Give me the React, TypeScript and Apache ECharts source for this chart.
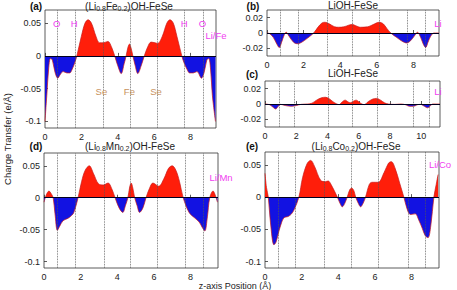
import React, { useEffect, useRef } from 'react';
import * as echarts from 'echarts';

// ---------- data ----------
const xTicks9 = [0, 2, 4, 6, 8];
const xTicks11 = [0, 2, 4, 6, 8, 10];
const yTicksBig = [-0.1, -0.05, 0, 0.05];
const yTicksSmall = [-0.02, 0, 0.02];

const curveA: [number, number][] = [
  [0, -0.1], [0.1, -0.06], [0.2, -0.02], [0.3, -0.004], [0.4, -0.006], [0.55, -0.025], [0.7, -0.034],
  [0.85, -0.028], [1.0, -0.024], [1.2, -0.026], [1.36, -0.026], [1.5, -0.02], [1.63, -0.011], [1.75, 0],
  [2.0, 0.03], [2.2, 0.05], [2.37, 0.055], [2.55, 0.05], [2.8, 0.03], [3.0, 0.02], [3.2, 0.02],
  [3.46, 0.022], [3.65, 0.014], [3.83, 0], [4.0, -0.015], [4.19, -0.027], [4.35, -0.012], [4.46, 0],
  [4.55, 0.012], [4.64, 0.018], [4.73, 0.012], [4.83, 0], [4.95, -0.014], [5.1, -0.027], [5.3, -0.014],
  [5.46, 0], [5.65, 0.014], [5.83, 0.021], [6.05, 0.02], [6.19, 0.019], [6.45, 0.03], [6.7, 0.05],
  [6.87, 0.055], [7.05, 0.05], [7.25, 0.03], [7.52, 0], [7.65, -0.011], [7.8, -0.02], [7.95, -0.026],
  [8.15, -0.026], [8.35, -0.024], [8.6, -0.034], [8.75, -0.025], [8.9, -0.006], [9.0, -0.004],
  [9.1, -0.02], [9.2, -0.06], [9.37, -0.1],
];
const curveB: [number, number][] = [
  [0, 0], [0.15, -0.001], [0.35, -0.006], [0.55, -0.015], [0.67, -0.019], [0.8, -0.012], [0.95, -0.002],
  [1.05, 0.001], [1.2, -0.004], [1.45, -0.012], [1.67, -0.014], [1.9, -0.012], [2.2, -0.007], [2.55, 0],
  [2.8, 0.008], [3.0, 0.013], [3.16, 0.014], [3.4, 0.012], [3.7, 0.008], [3.9, 0.0075], [4.2, 0.008],
  [4.5, 0.0105], [4.67, 0.011], [4.85, 0.0095], [5.1, 0.0075], [5.5, 0.008], [5.8, 0.011], [6.13, 0.014],
  [6.35, 0.012], [6.55, 0.006], [6.76, 0], [7.1, -0.006], [7.4, -0.011], [7.64, -0.013], [7.85, -0.01],
  [8.05, -0.004], [8.22, 0.001], [8.4, -0.006], [8.55, -0.015], [8.67, -0.019], [8.8, -0.012],
  [8.95, -0.004], [9.13, 0], [9.4, 0],
];
const curveC: [number, number][] = [
  [0, 0], [0.3, -0.001], [0.5, -0.004], [0.68, -0.0065], [0.85, -0.003], [1.0, -0.0005], [1.3, -0.002],
  [1.7, -0.003], [2.0, -0.002], [2.3, -0.0005], [2.7, 0], [3.0, 0.001], [3.3, 0.005], [3.6, 0.008],
  [3.86, 0.0088], [4.1, 0.007], [4.35, 0.003], [4.6, 0], [4.75, -0.0008], [4.9, 0.002], [5.13, 0.005],
  [5.3, 0.003], [5.45, 0.0015], [5.6, 0.003], [5.83, 0.005], [6.0, 0.003], [6.2, 0], [6.35, -0.0008],
  [6.6, 0.003], [6.9, 0.0065], [7.14, 0.0073], [7.4, 0.005], [7.65, 0.0015], [7.9, 0], [8.3, -0.0005],
  [8.7, 0], [9.0, -0.001], [9.25, -0.003], [9.5, -0.003], [9.75, -0.001], [9.95, -0.0005], [10.2, -0.003],
  [10.4, -0.005], [10.6, -0.002], [10.75, 0], [11.2, 0],
];
const curveD: [number, number][] = [
  [0, -0.007], [0.12, 0.004], [0.27, 0.0105], [0.4, 0.006], [0.5, 0], [0.6, -0.025], [0.73, -0.051],
  [0.85, -0.045], [1.04, -0.036], [1.32, -0.032], [1.5, -0.028], [1.63, -0.023], [1.86, 0], [2.05, 0.025],
  [2.25, 0.043], [2.47, 0.05], [2.7, 0.038], [2.97, 0.022], [3.24, 0.02], [3.5, 0.023], [3.7, 0.014],
  [3.88, 0], [4.1, -0.016], [4.3, -0.023], [4.45, -0.012], [4.58, 0], [4.68, 0.017], [4.76, 0.023],
  [4.85, 0.015], [4.95, 0], [5.08, -0.012], [5.22, -0.023], [5.4, -0.016], [5.57, 0], [5.75, 0.014],
  [5.95, 0.023], [6.26, 0.018], [6.55, 0.03], [6.8, 0.046], [7.0, 0.05], [7.2, 0.043], [7.4, 0.025],
  [7.6, 0], [7.92, -0.023], [8.2, -0.031], [8.47, -0.038], [8.65, -0.047], [8.78, -0.052], [8.92, -0.03],
  [9.05, 0], [9.23, 0.0105], [9.35, 0.004], [9.47, -0.007],
];
const curveE: [number, number][] = [
  [0, 0.037], [0.08, 0.015], [0.18, 0], [0.3, -0.04], [0.49, -0.074], [0.6, -0.07], [0.76, -0.053],
  [0.9, -0.04], [1.04, -0.032], [1.27, -0.03], [1.45, -0.026], [1.6, -0.019], [1.85, 0], [2.05, 0.03],
  [2.3, 0.052], [2.49, 0.057], [2.7, 0.048], [3.04, 0.026], [3.3, 0.024], [3.45, 0.025], [3.6, 0.02],
  [3.95, 0], [4.1, -0.01], [4.22, -0.015], [4.35, -0.01], [4.49, 0], [4.62, 0.011], [4.73, 0.014],
  [4.85, 0.01], [4.95, 0], [5.1, -0.01], [5.22, -0.015], [5.35, -0.01], [5.49, 0], [5.7, 0.02],
  [5.85, 0.023], [6.18, 0.023], [6.5, 0.038], [6.75, 0.053], [6.9, 0.055], [7.1, 0.045], [7.35, 0.022],
  [7.58, 0], [7.8, -0.022], [7.95, -0.027], [8.2, -0.026], [8.4, -0.036], [8.58, -0.048], [8.75, -0.06],
  [8.9, -0.063], [9.05, -0.045], [9.22, 0], [9.35, 0.02], [9.45, 0.035],
];

// atomic layer positions (dotted lines)
const layersA = [0.68, 1.68, 3.22, 4.69, 6.17, 7.68, 8.71];
const layersB = [0.73, 1.71, 3.27, 4.67, 6.12, 7.67, 8.63];
const layersC = [0.9, 1.9, 4.07, 5.6, 7.17, 9.5, 10.5];
const layersD = [0.73, 1.73, 3.28, 4.73, 6.19, 7.69, 8.72];
const layersE = [0.73, 1.67, 3.22, 4.73, 6.18, 7.82, 8.76];

// atom labels inside panel (a)
type Lbl = { t: string; x: number; y: number; c: 'm' | 'b' };
const labelsA: Lbl[] = [
  { t: 'O', x: 0.64, y: 0.05, c: 'm' }, { t: 'H', x: 1.6, y: 0.05, c: 'm' },
  { t: 'H', x: 7.65, y: 0.05, c: 'm' }, { t: 'O', x: 8.65, y: 0.05, c: 'm' },
  { t: 'Se', x: 3.1, y: -0.054, c: 'b' }, { t: 'Fe', x: 4.64, y: -0.054, c: 'b' }, { t: 'Se', x: 6.1, y: -0.054, c: 'b' },
];
// cation labels at right edge of each panel
const cationA = 'Li/Fe';
const cationB = 'Li';
const cationC = 'Li';
const cationD = 'Li/Mn';
const cationE = 'Li/Co';

const titleA = '(Li{s|0.8}Fe{s|0.2})OH-FeSe';
const titleB = 'LiOH-FeSe';
const titleC = 'LiOH-FeSe';
const titleD = '(Li{s|0.8}Mn{s|0.2})OH-FeSe';
const titleE = '(Li{s|0.8}Co{s|0.2})OH-FeSe';

// ---------- style ----------
const FONT = 'Liberation Sans, Arial, Helvetica, sans-serif';
const RED = '#ff1e0a';
const BLUE = '#1212e2';
const MAGENTA = '#f040f0';
const TAN = '#c8925e';

const panels = [
  { box: { left: 45, top: 10, width: 171, height: 118 }, xMax: 9.4, yMin: -0.11, yMax: 0.07, xT: xTicks9, yT: yTicksBig, data: curveA, layers: layersA, labels: labelsA, letter: '(a)', lp: [36, 6], title: titleA, tp: [129, 6], cat: cationA, cp: [216, 35] },
  { box: { left: 267, top: 10, width: 172, height: 46 }, xMax: 9.4, yMin: -0.03, yMax: 0.03, xT: xTicks9, yT: yTicksSmall, data: curveB, layers: layersB, labels: [] as Lbl[], letter: '(b)', lp: [253, 6], title: titleB, tp: [353, 5], cat: cationB, cp: [438, 23] },
  { box: { left: 265, top: 81, width: 175, height: 46 }, xMax: 11.2, yMin: -0.03, yMax: 0.03, xT: xTicks11, yT: yTicksSmall, data: curveC, layers: layersC, labels: [] as Lbl[], letter: '(c)', lp: [252, 74], title: titleC, tp: [353, 73.5], cat: cationC, cp: [438, 91] },
  { box: { left: 44, top: 153, width: 174, height: 115 }, xMax: 9.5, yMin: -0.11, yMax: 0.07, xT: xTicks9, yT: yTicksBig, data: curveD, layers: layersD, labels: [] as Lbl[], letter: '(d)', lp: [36, 146], title: titleD, tp: [130, 146], cat: cationD, cp: [221, 177] },
  { box: { left: 265, top: 152, width: 174, height: 116 }, xMax: 9.5, yMin: -0.11, yMax: 0.07, xT: xTicks9, yT: yTicksBig, data: curveE, layers: layersE, labels: [] as Lbl[], letter: '(e)', lp: [252, 146], title: titleE, tp: [356, 146], cat: cationE, cp: [440, 164] },
];

function buildOption() {
  const grid: any[] = [];
  const xAxis: any[] = [];
  const yAxis: any[] = [];
  const series: any[] = [];
  const visualMap: any[] = [];
  const graphic: any[] = [];
  panels.forEach((p, i) => {
    grid.push({ ...p.box, show: true, borderColor: '#333', borderWidth: 0.8, backgroundColor: 'transparent' });
    xAxis.push({
      type: 'value', gridIndex: i, min: 0, max: p.xMax,
      axisLine: { show: false }, splitLine: { show: false },
      axisTick: { show: true, inside: true, length: 3, lineStyle: { color: '#333', width: 0.8 }, customValues: p.xT },
      axisLabel: { customValues: p.xT, fontSize: 9, color: '#222', margin: 4, fontFamily: FONT },
    });
    yAxis.push({
      type: 'value', gridIndex: i, min: p.yMin, max: p.yMax,
      axisLine: { show: false }, splitLine: { show: false },
      axisTick: { show: true, inside: true, length: 3, lineStyle: { color: '#333', width: 0.8 }, customValues: p.yT },
      axisLabel: { customValues: p.yT, fontSize: 9, color: '#222', margin: 4, fontFamily: FONT },
    });
    series.push({
      type: 'line', xAxisIndex: i, yAxisIndex: i, data: p.data,
      smooth: 0.35, showSymbol: false, symbol: 'none',
      lineStyle: { color: '#c81818', width: 0.7 },
      areaStyle: { opacity: 1, origin: 0 },
      markLine: {
        silent: true, symbol: ['none', 'none'], label: { show: false },
        data: [
          ...p.layers.map((v) => ({ xAxis: v, lineStyle: { type: 'dotted', color: '#555', width: 0.8 } })),
          { yAxis: 0, lineStyle: { type: 'solid', color: '#000020', width: 1 } },
        ],
      },
      markPoint: {
        silent: true, symbol: 'circle', symbolSize: 1, itemStyle: { color: 'rgba(0,0,0,0)' },
        data: p.labels.map((l) => ({
          coord: [l.x, l.y],
          label: { show: true, position: 'inside', formatter: l.t, color: l.c === 'm' ? MAGENTA : TAN, fontSize: 9.5, fontFamily: FONT },
        })),
      },
    });
    visualMap.push({
      type: 'piecewise', show: false, seriesIndex: i, dimension: 1,
      pieces: [{ gte: -1, lt: 0, color: BLUE }, { gte: 0, lte: 1, color: RED }],
      outOfRange: { color: '#999' },
    });
    graphic.push({
      type: 'text', x: p.lp[0], y: p.lp[1],
      style: { text: p.letter, fontSize: 10, fontWeight: 'bold', fontFamily: FONT, fill: '#111', align: 'center', verticalAlign: 'middle' },
    });
    graphic.push({
      type: 'text', x: p.tp[0], y: p.tp[1],
      style: {
        text: p.title, fontSize: 10, fontFamily: FONT, fill: '#222', align: 'center', verticalAlign: 'middle', lineHeight: 12,
        rich: { s: { fontSize: 7, fontFamily: FONT, fill: '#222', lineHeight: 6, verticalAlign: 'bottom' } },
      },
    });
    graphic.push({
      type: 'text', x: p.cp[0], y: p.cp[1], z: 10,
      style: { text: p.cat, fontSize: 9.5, fontFamily: FONT, fill: MAGENTA, align: 'center', verticalAlign: 'middle' },
    });
  });
  graphic.push({
    type: 'text', x: 235, y: 286,
    style: { text: 'z-axis Position (Å)', fontSize: 9, fontFamily: FONT, fill: '#222', align: 'center', verticalAlign: 'middle' },
  });
  graphic.push({
    type: 'text', x: 7, y: 139, rotation: Math.PI / 2,
    style: { text: 'Charge Transfer (e/Å)', fontSize: 9.5, fontFamily: FONT, fill: '#222', align: 'center', verticalAlign: 'middle' },
  });
  return { animation: false, backgroundColor: '#fff', grid, xAxis, yAxis, series, visualMap, graphic };
}

export default function App() {
  const ref = useRef<HTMLDivElement>(null);
  useEffect(() => {
    if (!ref.current) return;
    const chart = echarts.init(ref.current, undefined, { renderer: 'svg' });
    chart.setOption(buildOption() as any);
    return () => chart.dispose();
  }, []);
  return <div ref={ref} style={{ position: 'absolute', left: 0, top: 0, width: 457, height: 290, background: '#fff' }} />;
}
